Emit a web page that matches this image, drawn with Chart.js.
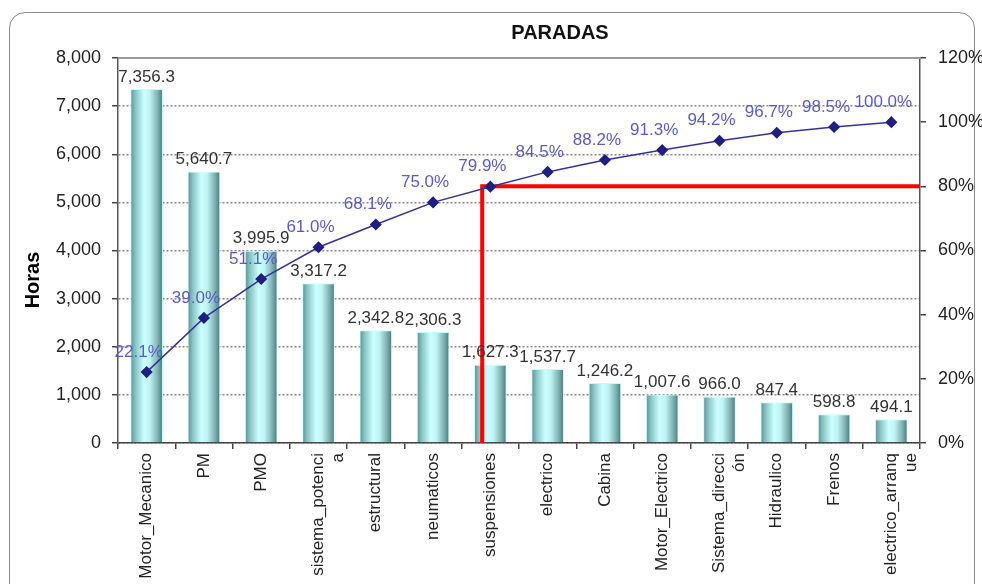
<!DOCTYPE html>
<html>
<head>
<meta charset="utf-8">
<script src="https://cdn.jsdelivr.net/npm/chart.js@4.4.1/dist/chart.umd.min.js"></script>
<style>
  html, body { margin: 0; padding: 0; background: #fff; overflow: hidden; }
  #wrap { position: relative; width: 982px; height: 584px; }
  #frame { position: absolute; left: 9px; top: 12px; width: 966px; height: 640px;
           border: 1.5px solid #8a8a8a; border-radius: 16px; box-sizing: border-box; }
  canvas { position: absolute; left: 0; top: 0; }
</style>
</head>
<body>
<div id="wrap">
  <div id="frame"></div>
  <canvas id="pareto" width="982" height="584"></canvas>
</div>
<script>
// datos del pareto
const categorias = [
  'Motor_Mecanico', 'PM', 'PMO', ['sistema_potenci', 'a'], 'estructural', 'neumaticos',
  'suspensiones', 'electrico', 'Cabina', 'Motor_Electrico', ['Sistema_direcci', 'ón'],
  'Hidraulico', 'Frenos', ['electrico_arranq', 'ue']
];
const horas = [7356.3, 5640.7, 3995.9, 3317.2, 2342.8, 2306.3, 1627.3, 1537.7, 1246.2, 1007.6, 966.0, 847.4, 598.8, 494.1];
const acumulado = [22.1, 39.0, 51.1, 61.0, 68.1, 75.0, 79.9, 84.5, 88.2, 91.3, 94.2, 96.7, 98.5, 100.0];
const horasMax = 8000, horasPaso = 1000;
const pctMax = 120, pctPaso = 20;
const corte = 80;        // linea roja 80%
const corteIdx = 6;      // suspensiones

const FUENTE = '"Liberation Sans", Arial, sans-serif';
Chart.defaults.font.family = FUENTE;
const anchoBarra = 0.57;

const fmtHoras = v => v.toLocaleString('en-US', { minimumFractionDigits: 1, maximumFractionDigits: 1 });

// degradado tipo cilindro para cada barra
function sombraBarra(c) {
  const chart = c.chart;
  const xs = chart.scales.x;
  if (!xs || c.dataIndex === undefined) return '#9ee';
  const cx = xs.getPixelForValue(c.dataIndex);
  if (!isFinite(cx)) return '#9ee';
  const half = xs.width / categorias.length * anchoBarra / 2;
  const g = chart.ctx.createLinearGradient(cx - half, 0, cx + half, 0);
  g.addColorStop(0, '#5a8e8e');
  g.addColorStop(0.15, '#86c2c2');
  g.addColorStop(0.42, '#ccffff');
  g.addColorStop(0.6, '#bff4f4');
  g.addColorStop(0.85, '#7aadad');
  g.addColorStop(1, '#4a7474');
  return g;
}

const extras = {
  id: 'extras',
  beforeDatasetsDraw(chart) {
    const { ctx, chartArea } = chart;
    ctx.save();
    ctx.strokeStyle = '#999';
    ctx.lineWidth = 2;
    ctx.beginPath();
    ctx.moveTo(chartArea.left, chartArea.top);
    ctx.lineTo(chartArea.right, chartArea.top);
    ctx.stroke();
    ctx.restore();
  },
  afterDatasetDraw(chart, args) {
    if (args.index !== 0) return;
    // linea de corte 80%
    const { ctx, chartArea, scales } = chart;
    const bar = args.meta.data[corteIdx];
    const x = bar.x - bar.width / 4;
    const y80 = scales.y1.getPixelForValue(corte);
    const y0 = scales.y1.getPixelForValue(0);
    ctx.save();
    ctx.strokeStyle = '#ff0000';
    ctx.lineWidth = 4;
    ctx.beginPath();
    ctx.moveTo(x, y0);
    ctx.lineTo(x, y80);
    ctx.lineTo(chartArea.right, y80);
    ctx.stroke();
    ctx.restore();
  },
  afterDatasetsDraw(chart) {
    const { ctx, chartArea } = chart;
    ctx.save();
    ctx.textAlign = 'center';
    ctx.textBaseline = 'middle';
    ctx.font = '17px ' + FUENTE;
    ctx.fillStyle = '#333';
    chart.getDatasetMeta(0).data.forEach((b, i) => {
      ctx.fillText(fmtHoras(horas[i]), b.x, b.y - 12);
    });
    ctx.fillStyle = '#5c5cc0';
    chart.getDatasetMeta(1).data.forEach((p, i) => {
      ctx.fillText(acumulado[i].toFixed(1) + '%', p.x - 8, p.y - 20);
    });
    // titulos
    ctx.fillStyle = '#111';
    ctx.font = 'bold 20px ' + FUENTE;
    ctx.fillText('PARADAS', (chartArea.left + chartArea.right) / 2 + 41, 33);
    ctx.translate(33, 280);
    ctx.rotate(-Math.PI / 2);
    ctx.fillStyle = '#000';
    ctx.fillText('Horas', 0, 0);
    ctx.restore();
  }
};

new Chart(document.getElementById('pareto'), {
  data: {
    labels: categorias,
    datasets: [
      {
        type: 'bar',
        label: 'Horas',
        data: horas,
        yAxisID: 'y',
        order: 2,
        backgroundColor: sombraBarra,
        borderColor: '#c4ffff',
        borderWidth: 1,
        barPercentage: anchoBarra,
        categoryPercentage: 1
      },
      {
        type: 'line',
        label: '% acumulado',
        data: acumulado,
        yAxisID: 'y1',
        order: 1,
        borderColor: '#333399',
        borderWidth: 1.5,
        tension: 0,
        pointStyle: 'rectRot',
        pointRadius: 5,
        pointBackgroundColor: '#1f1f80',
        pointBorderColor: '#1f1f80'
      }
    ]
  },
  options: {
    responsive: false,
    animation: false,
    layout: { padding: { top: 58, left: 10, right: 0, bottom: 0 } },
    plugins: {
      legend: { display: false },
      tooltip: { enabled: false },
      title: { display: false }
    },
    scales: {
      x: {
        offset: true,
        grid: { drawOnChartArea: false, offset: true, tickLength: 6, color: '#444', lineWidth: 1.5 },
        border: { color: '#444', width: 1.5 },
        ticks: {
          autoSkip: false, minRotation: 90, maxRotation: 90, padding: 4,
          color: '#222', font: { size: 17, lineHeight: 1.15 }
        },
        afterFit: s => { s.height = 141; }
      },
      y: {
        position: 'left',
        min: 0, max: horasMax,
        ticks: {
          stepSize: horasPaso, padding: 11, color: '#222', font: { size: 18 },
          callback: v => v.toLocaleString('en-US')
        },
        grid: { color: '#888', lineWidth: 1.5, tickLength: 6, tickColor: '#444', tickWidth: 1.5, tickBorderDash: [] },
        border: { color: '#555', width: 1.5, dash: [2, 2] },
        afterFit: s => { s.width = 108; }
      },
      y1: {
        position: 'right',
        min: 0, max: pctMax,
        ticks: {
          stepSize: pctPaso, padding: 12, color: '#222', font: { size: 18 },
          callback: v => v + '%'
        },
        grid: { drawOnChartArea: false, tickLength: 6, color: '#444', lineWidth: 1.5 },
        border: { color: '#555', width: 1.5 },
        afterFit: s => { s.width = 62; }
      }
    }
  },
  plugins: [extras]
});
</script>
</body>
</html>
